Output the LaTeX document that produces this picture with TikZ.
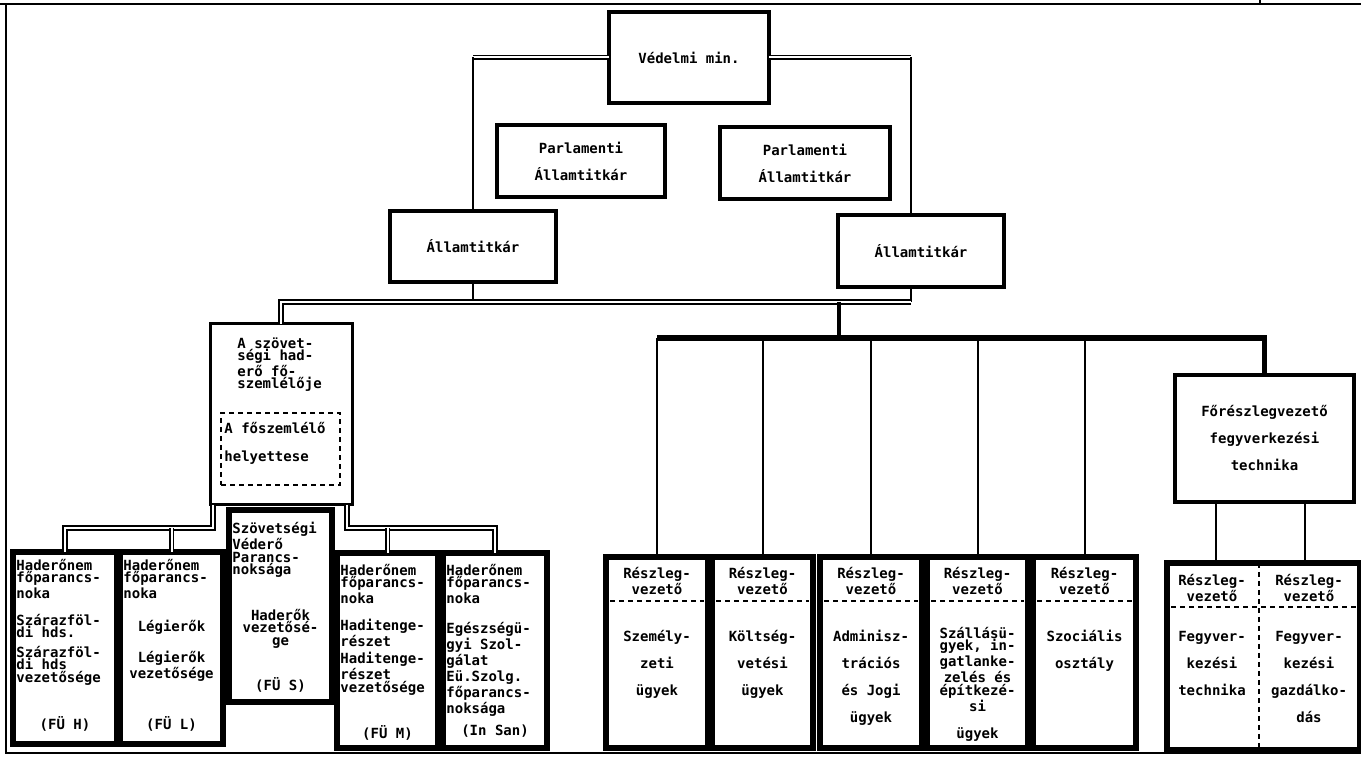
\documentclass[tikz,border=0pt]{standalone}
\usepackage{fontspec}
\newfontfamily\dotfont{DejaVu Sans Mono}
\usetikzlibrary{calc,positioning}
\newcommand{\OrgBox}[7][]% #1=style, #2=name, (#3,#4)=top left, (#5,#6)=bottom right, #7=text
{\node[#1, anchor=north west, outer sep=0pt, inner sep=0pt,
   minimum width={(#5-#3)*0.5pt}, minimum height={(#6-#4)*0.5pt}] (#2) at (#3,#4) {#7};
}

\begin{document}
\begin{tikzpicture}[x=0.5pt, y=-0.5pt,
 txt/.style={font=\dotfont\bfseries\fontsize{7}{6.2}\selectfont, inner sep=0pt, align=left, anchor=north west},
 ctxt/.style={txt, align=center, anchor=north},
 widetxt/.style={font=\dotfont\bfseries\fontsize{7}{13.5}\selectfont},
 topbox/.style={draw, line width=1.6pt, txt, align=center},
 heavybox/.style={draw, line width=2.6pt},
 conn/.style={line width=1pt},
 dbl/.style={double, double distance=1pt, line width=0.9pt},
 bus/.style={line width=2.6pt},
 dashline/.style={dash pattern=on 2.5pt off 2pt, line width=1pt}]

    \useasboundingbox (0,0) rectangle (1361,763);

    % frame
    \draw[conn] (0,4) -- (1361,4);
    \draw[conn] (6,4) -- (6,753) -- (1361,753);
    \draw[conn] (1260,0) -- (1260,4);

    % upper level
    \OrgBox[topbox]{vm}{609}{12}{769}{103}{Védelmi min.}
    \OrgBox[topbox, widetxt]{pl}{497}{125}{665}{197}{Parlamenti\\Államtitkár}
    \OrgBox[topbox, widetxt]{pr}{720}{127}{890}{199}{Parlamenti\\Államtitkár}
    \OrgBox[topbox]{al}{390}{211}{556}{282}{Államtitkár}
    \OrgBox[topbox]{ar}{838}{215}{1004}{287}{Államtitkár}

    \coordinate (arx) at ($(ar.north)+(-10,0)$);
    \coordinate (mid) at (0,302);
    \coordinate (bus) at (839,338);

    \draw[dbl] (vm.west) -- (vm.west -| al.north);
    \draw[conn, line width=1.4pt] (vm.west -| al.north) -- (al.north);
    \draw[dbl] (vm.east) -- (vm.east -| arx);
    \draw[conn, line width=1.4pt] (vm.east -| arx) -- (arx);

    % inspector general
    \OrgBox[draw, line width=1.5pt]{hsz}{210}{324}{352}{505}{}
    \node[txt] (hsza) at ($(hsz.north west)+(27,13)$) {A szövet-\\ségi had-\\erő fő-\\szemlélője};
    \OrgBox[draw, dashline]{hszh}{221}{413}{340}{485}{}
    \node[txt] (hszt) at ($(hszh.north west)+(3,9)$) {A főszemlélő\\[8pt]helyettese};

    \draw[conn] (al.south) -- (al.south |- mid);
    \draw[conn] (ar.south -| arx) -- (arx |- mid);
    \draw[dbl] (hsz.north) |- (arx |- mid);
    \draw[conn, line width=2pt] (bus |- mid) -- (bus);

    % services
    \OrgBox[heavybox]{h1}{13}{552}{117}{744}{}
    \node[txt] (h1a) at ($(h1.north west)+(3,7)$) {Haderőnem\\főparancs-\\noka};
    \node[txt] (h1b) at ($(h1.north west)+(3,62)$) {Szárazföl-\\di hds.};
    \node[txt] (h1c) at ($(h1.north west)+(3,94)$) {Szárazföl-\\di hds\\vezetősége};
    \node[ctxt] (h1d) at ($(h1.north)+(0,164)$) {(FÜ H)};

    \OrgBox[heavybox]{h2}{120}{552}{223}{744}{}
    \node[txt] (h2a) at ($(h2.north west)+(3,7)$) {Haderőnem\\főparancs-\\noka};
    \node[ctxt] (h2b) at ($(h2.north)+(0,68)$) {Légierők};
    \node[ctxt] (h2c) at ($(h2.north)+(0,99)$) {Légierők\\vezetősége};
    \node[ctxt] (h2d) at ($(h2.north)+(0,164)$) {(FÜ L)};

    \OrgBox[heavybox]{h3}{229}{510}{332}{702}{}
    \node[txt] (h3a) at ($(h3.north west)+(3,12)$) {Szövetségi\\Véderő\\Parancs-\\noksága};
    \node[ctxt] (h3b) at ($(h3.north)+(0,99)$) {Haderők\\vezetősé-\\ge};
    \node[ctxt] (h3c) at ($(h3.north)+(0,167)$) {(FÜ S)};

    \OrgBox[heavybox]{h4}{337}{553}{438}{748}{}
    \node[txt] (h4a) at ($(h4.north west)+(3,11)$) {Haderőnem\\főparancs-\\noka};
    \node[txt] (h4b) at ($(h4.north west)+(3,66)$) {Haditenge-\\részet};
    \node[txt] (h4c) at ($(h4.north west)+(3,99)$) {Haditenge-\\részet\\vezetősége};
    \node[ctxt] (h4d) at ($(h4.north)+(0,172)$) {(FÜ M)};

    \OrgBox[heavybox]{h5}{443}{553}{547}{748}{}
    \node[txt] (h5a) at ($(h5.north west)+(3,11)$) {Haderőnem\\főparancs-\\noka};
    \node[txt] (h5b) at ($(h5.north west)+(3,69)$) {Egészségü-\\gyi Szol-\\gálat\\Eü.Szolg.\\főparancs-\\noksága};
    \node[ctxt] (h5c) at ($(h5.north)+(0,171)$) {(In San)};

    \coordinate (hl) at ($(hsz.south west)+(3,23)$);
    \coordinate (hr) at ($(hsz.south east)+(-5,23)$);
    \draw[dbl] (hsz.south west -| hl) -- (hl) -| (h1.north);
    \draw[dbl] (h2.north) -- (h2.north |- hl);
    \draw[dbl] (hsz.south east -| hr) -- (hr) -| (h5.north);
    \draw[dbl] (h4.north) -- (h4.north |- hr);

    % departments
    \foreach \n/\xa/\xb in {r1/606/708, r2/712/813, r3/820/922, r4/927/1028, r5/1033/1136}{
      \OrgBox[heavybox]{\n}{\xa}{557}{\xb}{748}{}
      \node[ctxt] (\n-h) at ($(\n.north)+(0,10)$) {Részleg-\\vezető};
      \draw[dashline] ($(\n.north west)+(4,44)$) -- ($(\n.north east)+(-4,44)$);
      \draw[conn] (\n.north) -- (\n.north |- bus);
    }
    \node[ctxt, widetxt] (r1t) at ($(r1.north)+(0,73)$) {Személy-\\zeti\\ügyek};
    \node[ctxt, widetxt] (r2t) at ($(r2.north)+(0,73)$) {Költség-\\vetési\\ügyek};
    \node[ctxt, widetxt] (r3t) at ($(r3.north)+(0,73)$) {Adminisz-\\trációs\\és Jogi\\ügyek};
    \node[ctxt] (r4t) at ($(r4.north)+(0,70)$) {Szállásü-\\gyek, in-\\gatlanke-\\zelés és\\építkezé-\\si};
    \node[ctxt] (r4u) at ($(r4.north)+(0,170)$) {ügyek};
    \node[ctxt, widetxt] (r5t) at ($(r5.north)+(0,73)$) {Szociális\\osztály};

    % armament
    \OrgBox[topbox, widetxt]{fb}{1175}{375}{1354}{502}{Főrészlegvezető\\fegyverkezési\\technika}
    \draw[bus] (r1.north |- bus) -| (fb.north);

    \OrgBox[heavybox]{fw}{1167}{563}{1360}{750}{}
    \coordinate (fws) at ($(fw.north)+(-5,0)$);
    \draw[dashline] (fws) -- (fws |- fw.south);
    \draw[dashline] ($(fw.north west)+(4,44)$) -- ($(fw.north east)+(-4,44)$);
    \node[ctxt] (fwl) at ($(fw.north west)+(45,11)$) {Részleg-\\vezető};
    \node[ctxt] (fwr) at ($(fw.north east)+(-51,11)$) {Részleg-\\vezető};
    \node[ctxt, widetxt] (fwlt) at ($(fw.north west)+(45,68)$) {Fegyver-\\kezési\\technika};
    \node[ctxt, widetxt] (fwrt) at ($(fw.north east)+(-51,68)$) {Fegyver-\\kezési\\gazdálko-\\dás};

    \coordinate (fbl) at ($(fb.south)+(-49,0)$);
    \coordinate (fbr) at ($(fb.south)+(40,0)$);
    \draw[conn] (fbl) -- (fbl |- fw.north);
    \draw[conn] (fbr) -- (fbr |- fw.north);

\end{tikzpicture}
\end{document}
